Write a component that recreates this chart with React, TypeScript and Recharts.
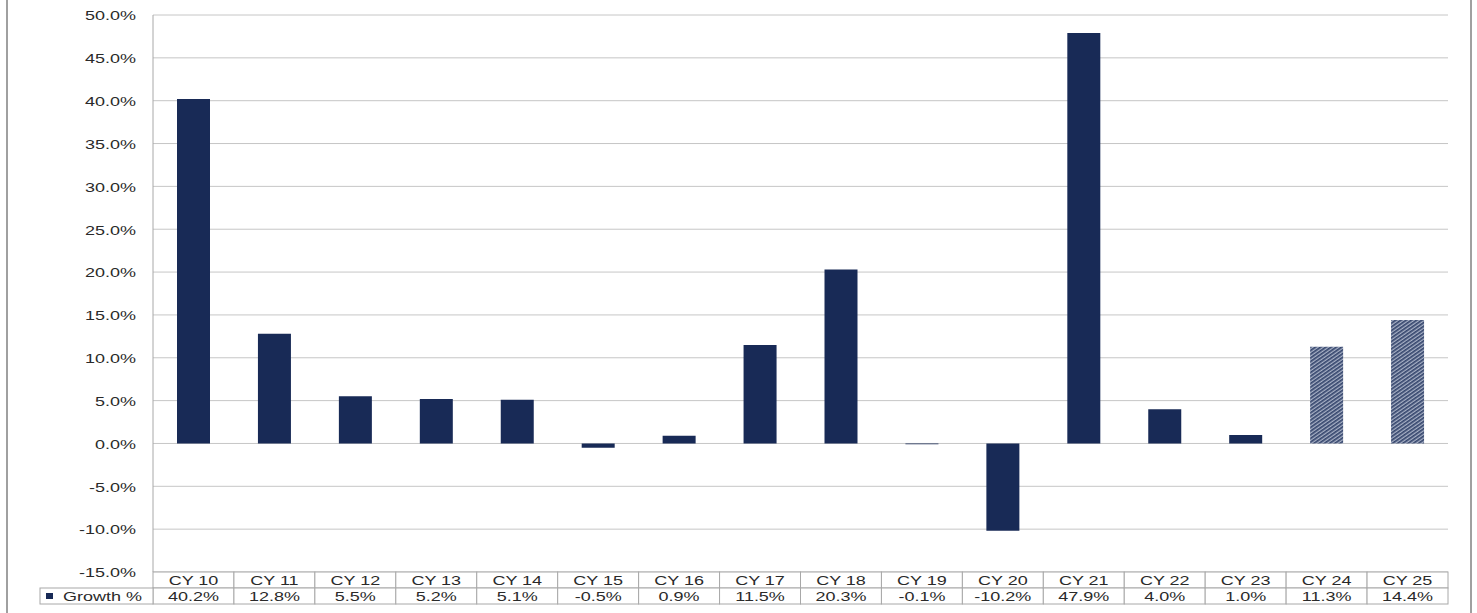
import { Bar, BarChart, CartesianGrid, Cell, XAxis, YAxis } from 'recharts';

const categories = ['CY 10', 'CY 11', 'CY 12', 'CY 13', 'CY 14', 'CY 15', 'CY 16', 'CY 17', 'CY 18', 'CY 19', 'CY 20', 'CY 21', 'CY 22', 'CY 23', 'CY 24', 'CY 25'];
const growth = [40.2, 12.8, 5.5, 5.2, 5.1, -0.5, 0.9, 11.5, 20.3, -0.1, -10.2, 47.9, 4.0, 1.0, 11.3, 14.4];
const estimate = [false, false, false, false, false, false, false, false, false, false, false, false, false, false, true, true];
const yTicks = [-15, -10, -5, 0, 5, 10, 15, 20, 25, 30, 35, 40, 45, 50];

const W = 1477;
const H = 613;
const PLOT_LEFT = 153;
const PLOT_RIGHT = 1448;
const BAND = (PLOT_RIGHT - PLOT_LEFT) / categories.length;
const ROW = 16;
const NAVY = '#182a56';
const BORDER = '#a8a8a8';
const FONT = '"Liberation Sans", Arial, sans-serif';

const fmt = (v: number) => `${v.toFixed(1)}%`;

function WideText({ x, y, anchor = 'middle', children }: { x: number; y: number; anchor?: 'start' | 'middle' | 'end'; children: React.ReactNode }) {
    return (
        <text
            transform={`translate(${x},${y}) scale(1.5,1)`}
            textAnchor={anchor}
            dominantBaseline="central"
            fontSize={12}
            fontFamily={FONT}
            fill="#2a2a2a"
        >
            {children}
        </text>
    );
}

function YTick(props: any) {
    const { y, payload } = props;
    return <WideText x={136} y={y + 1} anchor="end">{fmt(payload.value)}</WideText>;
}

// the data table under the plot: category row + value row
function TableTick(props: any) {
    const { x, y, index, payload } = props;
    const left = x - BAND / 2;
    return (
        <g>
            <rect x={left} y={y} width={BAND} height={ROW} fill="#fff" stroke={BORDER} />
            <rect x={left} y={y + ROW} width={BAND} height={ROW} fill="#fff" stroke={BORDER} />
            <WideText x={x} y={y + ROW / 2 + 1}>{payload.value}</WideText>
            <WideText x={x} y={y + ROW * 1.5 + 1}>{fmt(growth[index])}</WideText>
            {index === 0 && (
                <g>
                    <rect x={40} y={y + ROW} width={left - 40} height={ROW} fill="#fff" stroke={BORDER} />
                    <rect x={46} y={y + ROW + 5} width={7} height={6} fill={NAVY} />
                    <WideText x={63} y={y + ROW * 1.5 + 1} anchor="start">Growth %</WideText>
                </g>
            )}
        </g>
    );
}

export default function App() {
    const data = categories.map((c, i) => ({ category: c, growth: growth[i] }));

    return (
        <div style={{ position: 'absolute', left: 0, top: 0, width: W, height: H, background: '#fff' }}>
            <div style={{ position: 'absolute', left: 6, top: 0, width: 2, height: H, background: '#a0a0a0' }} />
            <div style={{ position: 'absolute', left: 1470, top: 0, width: 2, height: H, background: '#a0a0a0' }} />
            <BarChart width={W} height={H} data={data} margin={{ top: 15, right: W - PLOT_RIGHT, bottom: 9, left: 13 }}>
                <defs>
                    <pattern id="hatch" width="3" height="3" patternUnits="userSpaceOnUse" patternTransform="rotate(-35)">
                        <rect width="3" height="3" fill="#a9b2c6" />
                        <rect width="3" height="1.7" fill={NAVY} opacity={0.8} />
                    </pattern>
                </defs>
                <CartesianGrid vertical={false} stroke="#c6c6c6" />
                <YAxis
                    width={PLOT_LEFT - 13}
                    domain={[-15, 50]}
                    ticks={yTicks}
                    interval={0}
                    tickLine={false}
                    axisLine={{ stroke: '#a8a8a8' }}
                    tick={<YTick />}
                />
                <XAxis
                    dataKey="category"
                    height={ROW * 2}
                    interval={0}
                    tickLine={false}
                    axisLine={false}
                    tickSize={0}
                    tickMargin={0}
                    tick={<TableTick />}
                />
                <Bar dataKey="growth" barSize={33} isAnimationActive={false}>
                    {data.map((_, i) => (
                        <Cell key={i} fill={estimate[i] ? 'url(#hatch)' : NAVY} />
                    ))}
                </Bar>
            </BarChart>
        </div>
    );
}
